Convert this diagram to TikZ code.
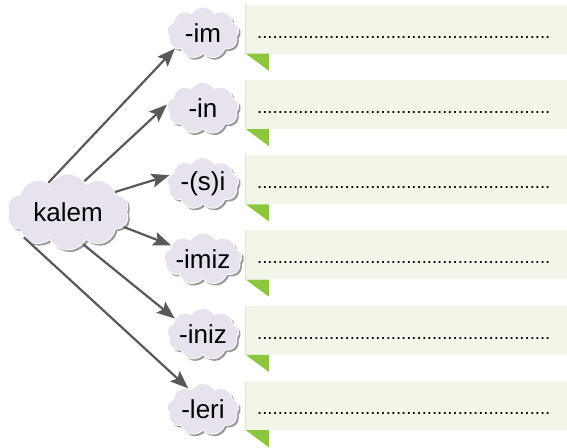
\documentclass[tikz,border=0pt]{standalone}
\usepackage{fontspec}
\setmainfont{Liberation Sans}
\usetikzlibrary{arrows.meta,shapes.symbols,shadows}

\definecolor{lilac}{HTML}{E8E2EF}
\definecolor{paper}{HTML}{F2F6E8}
\definecolor{paperedge}{HTML}{DCE8C6}
\definecolor{leaf}{HTML}{8CC63F}
\definecolor{ink}{HTML}{58595B}

\newcommand{\blankline}{.........................................................}

\begin{document}
\begin{tikzpicture}[x=1pt,y=-1pt,
    bubble/.style={cloud,cloud puffs=9,cloud puff arc=120,cloud ignores aspect,fill=lilac,draw=white,line width=0.8pt,
      drop shadow={shadow xshift=2pt,shadow yshift=-2pt,fill=black!40,opacity=1},
      inner sep=0pt,minimum width=72pt,minimum height=52pt,font=\fontsize{26}{28}\selectfont},
    answer/.style={rectangle,fill=paper,inner sep=0pt,minimum width=321pt,minimum height=49pt},
    blank/.style={inner sep=0pt,text=black,font=\fontsize{18.5}{20}\selectfont},
    link/.style={color=ink,line width=2.2pt,-{Stealth[length=18pt,width=14pt,inset=3.5pt]}}]
  \useasboundingbox (0,0) rectangle (567,447);

  % answer boxes
  \node[answer] (b1) at (406.5,29)    {};
  \node[answer] (b2) at (406.5,104.3) {};
  \node[answer] (b3) at (406.5,179.6) {};
  \node[answer] (b4) at (406.5,254.9) {};
  \node[answer] (b5) at (406.5,330.2) {};
  \node[answer] (b6) at (406.5,405.5) {};
  \draw[paperedge,line width=1pt] (b1.north west) -- (b1.south west) (b2.north west) -- (b2.south west)
        (b3.north west) -- (b3.south west) (b4.north west) -- (b4.south west)
        (b5.north west) -- (b5.south west) (b6.north west) -- (b6.south west);
  \fill[leaf] (b1.south west) -- ++(23,0) -- ++(0,17) -- cycle;
  \fill[leaf] (b2.south west) -- ++(23,0) -- ++(0,17) -- cycle;
  \fill[leaf] (b3.south west) -- ++(23,0) -- ++(0,17) -- cycle;
  \fill[leaf] (b4.south west) -- ++(23,0) -- ++(0,17) -- cycle;
  \fill[leaf] (b5.south west) -- ++(23,0) -- ++(0,17) -- cycle;
  \fill[leaf] (b6.south west) -- ++(23,0) -- ++(0,17) -- cycle;
  \node[blank,anchor=base west] (d1) at (257,38)    {\blankline};
  \node[blank,anchor=base west] (d2) at (257,113.3) {\blankline};
  \node[blank,anchor=base west] (d3) at (257,188.6) {\blankline};
  \node[blank,anchor=base west] (d4) at (257,263.9) {\blankline};
  \node[blank,anchor=base west] (d5) at (257,339.2) {\blankline};
  \node[blank,anchor=base west] (d6) at (257,414.5) {\blankline};

  % clouds
  \node[bubble,cloud puffs=10,minimum width=122pt,minimum height=76pt] (kalem) at (68,212) {kalem};
  \node[bubble] (im)   at (203,33)    {-im};
  \node[bubble] (in)   at (203,108.3) {-in};
  \node[bubble] (si)   at (203,183.6) {-(s)i};
  \node[bubble] (imiz) at (203,258.9) {-imiz};
  \node[bubble] (iniz) at (203,334.2) {-iniz};
  \node[bubble] (leri) at (203,409.5) {-leri};

  \path[link] (kalem.124) edge (im.209)
              (kalem.62)  edge (in.174)
              (kalem.23)  edge (si.166)
              (kalem.345) edge (imiz.157)
              (kalem.295) edge (iniz.151)
              (kalem.210) edge (leri.125);
\end{tikzpicture}
\end{document}
